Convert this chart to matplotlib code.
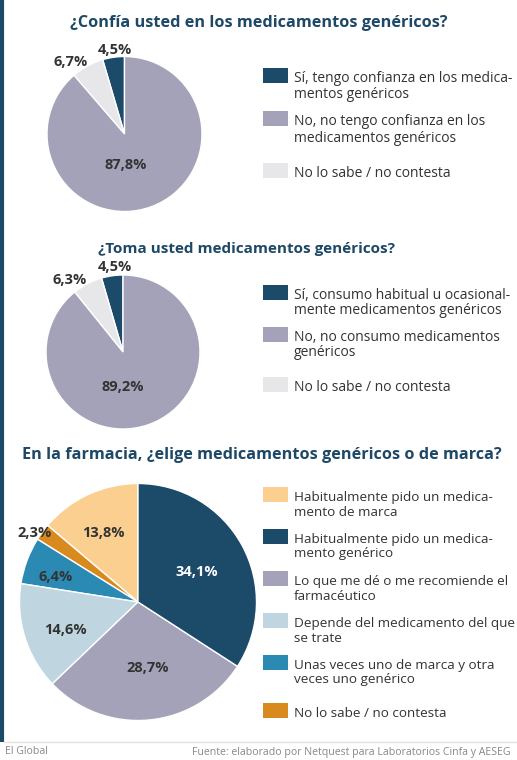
import numpy as np
import matplotlib
matplotlib.use("Agg")
import matplotlib.pyplot as plt
from matplotlib.patches import Rectangle

plt.rcParams['font.family'] = ['Open Sans', 'DejaVu Sans']

# ---------------- data ----------------
q1_title = "¿Confía usted en los medicamentos genéricos?"
q1_categories = ["Sí, tengo confianza en los medica-\nmentos genéricos",
                 "No, no tengo confianza en los\nmedicamentos genéricos",
                 "No lo sabe / no contesta"]
q1_values = [4.5, 87.8, 6.7]
q1_labels = ["4,5%", "87,8%", "6,7%"]

q2_title = "¿Toma usted medicamentos genéricos?"
q2_categories = ["Sí, consumo habitual u ocasional-\nmente medicamentos genéricos",
                 "No, no consumo medicamentos\ngenéricos",
                 "No lo sabe / no contesta"]
q2_values = [4.5, 89.2, 6.3]
q2_labels = ["4,5%", "89,2%", "6,3%"]

q3_title = "En la farmacia, ¿elige medicamentos genéricos o de marca?"
q3_categories = ["Habitualmente pido un medica-\nmento de marca",
                 "Habitualmente pido un medica-\nmento genérico",
                 "Lo que me dé o me recomiende el\nfarmacéutico",
                 "Depende del medicamento del que\nse trate",
                 "Unas veces uno de marca y otra\nveces uno genérico",
                 "No lo sabe / no contesta"]
q3_values = [13.8, 34.1, 28.7, 14.6, 6.4, 2.3]
q3_labels = ["13,8%", "34,1%", "28,7%", "14,6%", "6,4%", "2,3%"]

footer_left = "El Global"
footer_right = "Fuente: elaborado por Netquest para Laboratorios Cinfa y AESEG"

# ---------------- style ----------------
W, H = 517, 760
DARK = "#1c4a69"
GRAY = "#a4a2b8"
LGRAY = "#e7e7ea"
PEACH = "#fbcf8f"
ORANGE = "#d98a1e"
TEAL = "#2a8ab3"
LBLUE = "#bfd5df"
TXT = "#333333"
TITLE_C = "#1d4866"

q1_colors = [DARK, GRAY, LGRAY]
q2_colors = [DARK, GRAY, LGRAY]
q3_colors = [PEACH, DARK, GRAY, LBLUE, TEAL, ORANGE]

fig = plt.figure(figsize=(W / 100, H / 100), dpi=100)
fig.patch.set_facecolor("white")

bg = fig.add_axes([0, 0, 1, 1])
bg.set_xlim(0, W)
bg.set_ylim(H, 0)
bg.axis("off")


def draw_pie(cx, cy, r, values, colors, labels, order, lab_r, lab_shift, lab_col, fs):
    ax = fig.add_axes([(cx - r) / W, (H - cy - r) / H, 2 * r / W, 2 * r / H])
    vals = [values[i] for i in order]
    cols = [colors[i] for i in order]
    wedges, _ = ax.pie(vals, colors=cols, startangle=90, counterclock=True,
                       radius=1.0, wedgeprops=dict(edgecolor="white", linewidth=1.0))
    ax.set_xlim(-1, 1)
    ax.set_ylim(-1, 1)
    ax.set_aspect("equal")
    ax.axis("off")
    for k, w in enumerate(wedges):
        mid = np.deg2rad((w.theta1 + w.theta2) / 2 + lab_shift[k])
        ax.text(lab_r[k] * np.cos(mid), lab_r[k] * np.sin(mid), labels[order[k]],
                ha="center", va="center", fontsize=fs, fontweight="bold",
                color=lab_col[k], clip_on=False)
    return ax


def draw_legend(x, ys, categories, colors, fs, spacing):
    for y, cat, c in zip(ys, categories, colors):
        bg.add_patch(Rectangle((x, y), 25, 15, facecolor=c, edgecolor="none"))
        for j, line in enumerate(cat.split("\n")):
            bg.text(x + 31, y + 14 + j * spacing, line, ha="left", va="baseline",
                    fontsize=fs, color=TXT)


# titles
bg.text(259, 23, q1_title, ha="center", va="center", fontsize=11.7,
        fontweight="bold", color=TITLE_C)
bg.text(246, 249, q2_title, ha="center", va="center", fontsize=11.0,
        fontweight="bold", color=TITLE_C)
bg.text(262, 455, q3_title, ha="center", va="center", fontsize=11.7,
        fontweight="bold", color=TITLE_C)

PFS = 10.5
# pie 1
draw_pie(124.5, 134, 77.5, q1_values, q1_colors, q1_labels, order=[0, 2, 1],
         lab_r=[1.09, 1.16, 0.40], lab_shift=[-1.6, 8.3, -18.4],
         lab_col=[TXT, TXT, TXT], fs=PFS)
draw_legend(263, [68, 111, 163], q1_categories, q1_colors, 10.0, 16.5)

# pie 2
draw_pie(123, 352, 77, q2_values, q2_colors, q2_labels, order=[0, 2, 1],
         lab_r=[1.11, 1.16, 0.45], lab_shift=[-2.7, 8.9, -19.4],
         lab_col=[TXT, TXT, TXT], fs=PFS)
draw_legend(263, [285, 327, 377], q2_categories, q2_colors, 10.0, 15.5)

# pie 3
draw_pie(138, 602, 118.5, q3_values, q3_colors, q3_labels, order=[0, 5, 4, 3, 2, 1],
         lab_r=[0.65, 1.05, 0.73, 0.66, 0.56, 0.56],
         lab_shift=[2.1, 2.4, 3.5, 3.7, 2.6, -1.3],
         lab_col=[TXT, TXT, TXT, TXT, TXT, "white"], fs=PFS)
draw_legend(263, [487, 529, 571, 613, 655, 703], q3_categories, q3_colors, 9.7, 14.5)

# frame and footer
bg.plot([1.5, 1.5], [0, 742], color=DARK, linewidth=3, solid_capstyle="butt")
bg.plot([4, W], [742, 742], color="#e2e2e2", linewidth=1)
bg.text(5, 752, footer_left, ha="left", va="center", fontsize=7.6, color="#888888")
bg.text(192, 752, footer_right, ha="left", va="center", fontsize=7.6, color="#888888")

fig.savefig("out.png", dpi=100, facecolor="white")
